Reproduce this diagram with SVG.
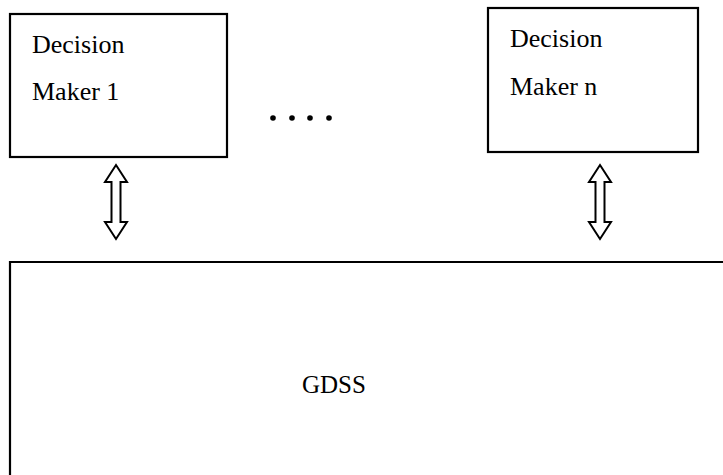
<svg xmlns="http://www.w3.org/2000/svg" width="723" height="475" viewBox="0 0 723 475">
<defs>
<style>
.box{fill:#fff;stroke:#000;stroke-width:2.2}
.lbl{font-family:"Liberation Serif","Times New Roman",serif;font-size:26px;fill:#000}
.arr{fill:#fff;stroke:#000;stroke-width:2;stroke-linejoin:miter}
</style>
<polygon id="dblarrow" class="arr" points="0,0 11,17 4.5,17 4.5,57 11,57 0,74 -11,57 -4.5,57 -4.5,17 -11,17"/>
</defs>
<rect width="723" height="475" fill="#fff"/>
<g id="dm1">
<rect class="box" x="10" y="14" width="217" height="143"/>
<text class="lbl" x="32" y="53">Decision</text>
<text class="lbl" x="32" y="100">Maker 1</text>
</g>
<g id="dmn">
<rect class="box" x="488" y="8" width="210" height="144"/>
<text class="lbl" x="510" y="47">Decision</text>
<text class="lbl" x="510" y="95">Maker n</text>
</g>
<g id="ellipsis">
<circle cx="273" cy="118" r="2.8"/>
<circle cx="292" cy="118" r="2.8"/>
<circle cx="310" cy="118" r="2.8"/>
<circle cx="329" cy="118" r="2.8"/>
</g>
<g id="gdss">
<path d="M10 475 V262 H723" fill="none" stroke="#000" stroke-width="2.2"/>
<text class="lbl" x="302" y="393" style="font-size:25px">GDSS</text>
</g>
<g id="connectors">
<use href="#dblarrow" x="116" y="165"/>
<use href="#dblarrow" x="600" y="165"/>
</g>
</svg>
